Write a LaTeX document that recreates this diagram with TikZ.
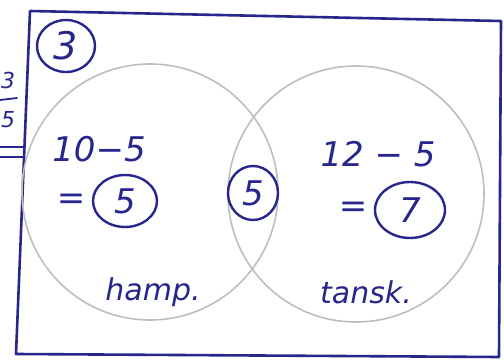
\documentclass[tikz,border=0pt]{standalone}
\usepackage{fontspec}
\setmainfont{DejaVu Sans}
\definecolor{ink}{RGB}{38,38,140}
\definecolor{pencil}{RGB}{190,190,190}
\begin{document}
\begin{tikzpicture}[x=1pt,y=-1pt,
  inkline/.style={draw=ink,line width=2.6pt,line cap=round,line join=round},
  venn/.style={draw=pencil,line width=1.6pt},
  hand/.style={text=ink,font=\fontsize{34}{36}\selectfont\itshape,inner sep=0pt},
  margin/.style={text=ink,font=\fontsize{22}{24}\selectfont\itshape,inner sep=0pt},
]
\useasboundingbox (0,0) rectangle (504,361);
\fill[white] (0,0) rectangle (504,361);
% frame
\coordinate (tl) at (30,11);
\coordinate (tr) at (501,21);
\coordinate (br) at (499,357);
\coordinate (bl) at (16,354);
\draw[inkline] (tl) -- (tr) -- (br) -- (bl) -- cycle;
% venn circles
\draw[venn] (150,192) circle (128);
\draw[venn] (356,194) circle (128);
% left margin fragments
\node[margin,anchor=west] (m3) at (1,80) {3};
\node[margin,anchor=west] (m5) at (1,120) {5};
\coordinate (f1) at (0,100); \coordinate (f2) at (17,98);
\draw[inkline,line width=1.8pt] (f1) -- (f2);
\coordinate (e1) at (0,147); \coordinate (e2) at (24,147);
\coordinate (e3) at (0,157); \coordinate (e4) at (24,157);
\draw[inkline,line width=2pt] (e1) -- (e2);
\draw[inkline,line width=2pt] (e3) -- (e4);
% task number
\node[hand,font=\fontsize{38}{40}\selectfont\itshape] (num) at (66,46) {3};
\draw[ink,line width=2.4pt] (66,46) ellipse (29 and 26);
% left region
\node[hand] (l1) at (99,149) {10−5};
\node[hand] (leq) at (71,202) {=};
\node[hand] (l5) at (125,201) {5};
\draw[ink,line width=2.4pt] (125,201) ellipse (32 and 26);
% intersection
\node[hand] (m5c) at (253,193) {5};
\draw[ink,line width=2.4pt] (253,193) ellipse (25 and 27);
% right region
\node[hand] (r1) at (378,154) {12 − 5};
\node[hand] (req) at (353,210) {=};
\node[hand] (r7) at (410,210) {7};
\draw[ink,line width=2.4pt] (410,210) ellipse (35 and 28);
% labels
\node[hand,font=\fontsize{30}{32}\selectfont\itshape] (ham) at (153,292) {hamp.};
\node[hand,font=\fontsize{30}{32}\selectfont\itshape] (tan) at (366,292) {tansk.};
\end{tikzpicture}
\end{document}
